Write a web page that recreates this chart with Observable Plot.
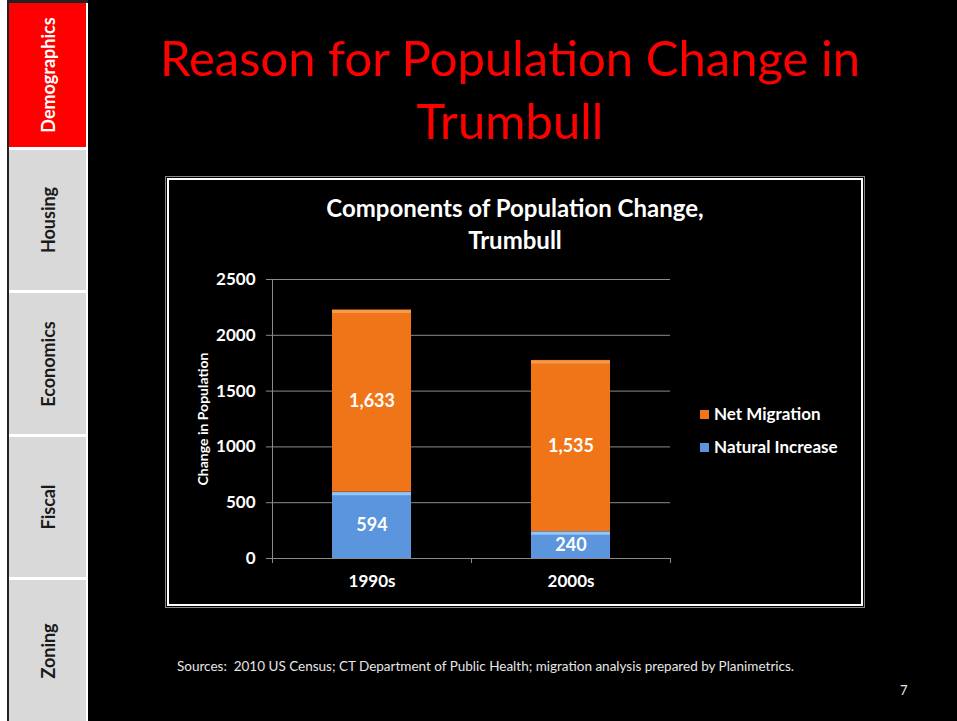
<!DOCTYPE html>
<html><head><meta charset="utf-8">
<script src="https://cdn.jsdelivr.net/npm/d3@7"></script>
<script src="https://cdn.jsdelivr.net/npm/@observablehq/plot@0.6"></script>
<style>
html,body{margin:0;padding:0;background:#000;}
body{width:957px;height:721px;overflow:hidden;position:relative;font-family:Lato,"Open Sans",sans-serif;}
#side{position:absolute;left:0;top:0;width:7px;height:721px;background:#fff;}
#tabs{position:absolute;left:7px;top:0;width:79px;height:718px;background:#fff;border-left:2px solid #222;border-top:3px solid #222;}
.tab{position:absolute;left:0;width:77px;background:#d9d9d9;}
.tab span{position:absolute;left:50%;top:50%;transform:translate(-50%,-50%) rotate(-90deg);white-space:nowrap;font-weight:bold;font-size:18px;color:#1a1a1a;}
.tab.on{background:#ff0000;}
.tab.on span{color:#fff;}
#title{position:absolute;left:110px;width:800px;top:26px;text-align:center;color:#ff0000;font-size:49px;line-height:63px;}
#box{position:absolute;left:167px;top:178px;width:692px;height:424px;border:2px solid #fff;outline:1px solid #888;outline-offset:1px;}
#ctitle{position:absolute;left:167px;width:696px;top:192px;text-align:center;color:#fff;font-weight:bold;font-size:24px;line-height:32px;}
#chart{position:absolute;left:167px;top:262px;}
#legend{position:absolute;left:700px;top:402px;color:#fff;font-weight:bold;font-size:17px;}
#legend div{height:33px;line-height:24px;white-space:nowrap;}
#legend i{display:inline-block;width:9px;height:9px;margin-right:5px;vertical-align:1px;}
#src{position:absolute;left:177px;top:658px;color:#e6e6e6;font-size:13.5px;}
#pg{position:absolute;left:900px;top:682px;color:#e6e6e6;font-size:13px;}
</style></head>
<body>
<div id="side"></div>
<div id="tabs"></div>
<div id="title">Reason for Population Change in<br>Trumbull</div>
<div id="box"></div>
<div id="ctitle">Components of Population Change,<br>Trumbull</div>
<div id="chart"></div>
<div id="legend"></div>
<div id="src">Sources:&nbsp; 2010 US Census; CT Department of Public Health; migration analysis prepared by Planimetrics.</div>
<div id="pg">7</div>
<script>
// ---- data ----
const tabNames = ["Demographics", "Housing", "Economics", "Fiscal", "Zoning"];
const activeTab = "Demographics";
const periods = ["1990s", "2000s"];
const components = ["Natural Increase", "Net Migration"];
const naturalIncrease = [594, 240];
const netMigration = [1633, 1535];
const yTicks = [0, 500, 1000, 1500, 2000, 2500];
const componentColors = ["#5b95de", "#ef7518"];
const highlightColors = ["#93c6f4", "#f39a4c"];
const legendOrder = ["Net Migration", "Natural Increase"];

// ---- sidebar ----
const tabs = document.getElementById("tabs");
const tabTops = [0, 147, 290, 434, 577];
tabNames.forEach((name, i) => {
  const d = document.createElement("div");
  d.className = "tab" + (name === activeTab ? " on" : "");
  d.style.top = tabTops[i] + "px";
  d.style.height = ((i < tabNames.length - 1 ? tabTops[i + 1] - 3 : 718) - tabTops[i]) + "px";
  const s = document.createElement("span");
  s.textContent = name;
  d.appendChild(s);
  tabs.appendChild(d);
});

// ---- chart ----
const rows = periods.flatMap((p, i) => [
  {period: p, component: components[0], value: naturalIncrease[i]},
  {period: p, component: components[1], value: netMigration[i]}
]);
const W = 696, H = 340, ML = 105, MR = 193, MT = 17, MB = 44;
const bw = (W - ML - MR) / periods.length;
const inset = 60;
const axisColor = "#8a8a8a";

const chart = Plot.plot({
  width: W, height: H,
  marginLeft: ML, marginRight: MR, marginTop: MT, marginBottom: MB,
  style: {background: "transparent", color: "#fff", fontFamily: "Lato, 'Open Sans', sans-serif"},
  x: {domain: periods, padding: 0, axis: null},
  y: {domain: [0, 2500], axis: null},
  color: {domain: components, range: componentColors},
  marks: [
    Plot.gridY(yTicks, {stroke: axisColor, strokeOpacity: 1}),
    Plot.axisY(yTicks, {tickSize: 6, tickPadding: 11, stroke: axisColor, fill: "#fff", fontSize: 17, fontWeight: "bold", tickFormat: d => String(d), label: null}),
    Plot.frame({anchor: "left", stroke: axisColor}),
    Plot.barY(rows, Plot.stackY({x: "period", y: "value", fill: "component", insetLeft: inset, insetRight: inset})),
    Plot.tickY(rows, Plot.stackY2({x: "period", y: "value", stroke: d => highlightColors[components.indexOf(d.component)], strokeWidth: 3, dy: 1.5, insetLeft: inset, insetRight: inset})),
    Plot.ruleY([0], {stroke: axisColor}),
    Plot.axisX(periods, {tickSize: 5, text: null, stroke: axisColor, dx: -bw / 2, label: null}),
    Plot.axisX([periods[periods.length - 1]], {tickSize: 5, text: null, stroke: axisColor, dx: bw / 2, label: null}),
    Plot.axisX(periods, {tickSize: 0, tickPadding: 16, fill: "#fff", fontSize: 17, fontWeight: "bold", label: null}),
    Plot.text(rows, Plot.stackY({x: "period", y: "value", text: d => d3.format(",")(d.value), fill: "#fff", fontSize: 18, fontWeight: "bold"})),
    Plot.text(["Change in Population"], {frameAnchor: "left", textAnchor: "middle", dx: -69, rotate: -90, fill: "#fff", fontSize: 14, fontWeight: "bold"})
  ]
});
document.getElementById("chart").appendChild(chart);

// ---- legend ----
const legend = document.getElementById("legend");
legendOrder.forEach(name => {
  const row = document.createElement("div");
  const sw = document.createElement("i");
  sw.style.background = componentColors[components.indexOf(name)];
  row.appendChild(sw);
  row.appendChild(document.createTextNode(name));
  legend.appendChild(row);
});
</script>
</body></html>
